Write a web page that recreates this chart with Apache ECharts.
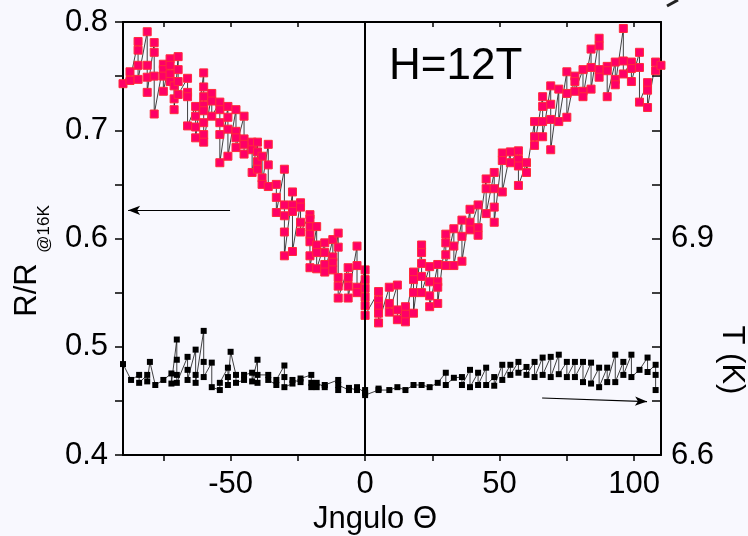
<!DOCTYPE html>
<html>
<head>
<meta charset="utf-8">
<script src="https://cdn.jsdelivr.net/npm/echarts@6/dist/echarts.min.js"></script>
<style>
  html, body { margin: 0; padding: 0; background: #f8f8fe; }
  #chart { width: 748px; height: 536px; }
</style>
</head>
<body>
<div id="chart"></div>
<script>
// Normalised resistance R/R(16K) versus field angle, several values per angle (repeated sweeps)
const rAngles = [-90, -87.4, -84.4, -81, -78.4, -75, -72.5, -71, -69.5, -66, -63, -60, -57, -54, -51, -48, -45, -42, -40, -38.3, -36, -33, -30, -27, -24, -20.5, -18, -15, -12, -10, -6.3, -3, 0, 5, 9, 12, 15, 18, 21, 24, 27, 30, 33, 36, 39, 42, 45, 48, 51, 54, 57, 60, 63, 66, 69, 72, 75, 78, 81, 84, 87, 90, 93, 96, 99, 102, 105, 108, 110];
const rValues = [
  [0.743], [0.754, 0.746], [0.782, 0.774, 0.760, 0.747], [0.791, 0.760, 0.749, 0.735],
  [0.781, 0.772, 0.750, 0.715], [0.761, 0.756, 0.750, 0.736], [0.766, 0.760, 0.752, 0.745],
  [0.741, 0.729, 0.719], [0.768, 0.756, 0.745, 0.733], [0.748, 0.735, 0.731, 0.704],
  [0.722, 0.713, 0.703, 0.693], [0.753, 0.740, 0.731, 0.723, 0.718, 0.707, 0.696, 0.689],
  [0.734, 0.727, 0.713], [0.726, 0.719, 0.707, 0.696, 0.670], [0.722, 0.712, 0.701, 0.676],
  [0.719, 0.699, 0.693, 0.684], [0.713, 0.692, 0.687, 0.678], [0.689, 0.682, 0.661],
  [0.689, 0.680, 0.671, 0.664], [0.676, 0.656, 0.650], [0.687, 0.668, 0.648],
  [0.650, 0.638, 0.624], [0.664, 0.631, 0.621, 0.606, 0.584], [0.643, 0.631, 0.625, 0.588],
  [0.633, 0.629, 0.615, 0.606], [0.622, 0.618, 0.611, 0.604, 0.597, 0.584, 0.573],
  [0.611, 0.594, 0.587, 0.572], [0.596, 0.587, 0.576, 0.569], [0.599, 0.583, 0.578, 0.571],
  [0.605, 0.592, 0.564, 0.556, 0.545], [0.573, 0.564, 0.556, 0.545], [0.593, 0.575, 0.555, 0.550],
  [0.571, 0.562, 0.554, 0.546, 0.538, 0.529], [0.551, 0.543, 0.537, 0.531, 0.522],
  [0.555, 0.540, 0.532], [0.557, 0.534, 0.525], [0.537, 0.530, 0.523],
  [0.569, 0.562, 0.550, 0.531], [0.594, 0.587, 0.577, 0.565, 0.550], [0.574, 0.560, 0.547, 0.537],
  [0.576, 0.560, 0.555, 0.540], [0.604, 0.596, 0.585, 0.575], [0.609, 0.593, 0.575],
  [0.617, 0.602, 0.579], [0.627, 0.615, 0.608], [0.631, 0.610, 0.603], [0.655, 0.646, 0.623],
  [0.661, 0.646, 0.629, 0.615], [0.679, 0.672, 0.643], [0.680, 0.670], [0.681, 0.673, 0.667, 0.649],
  [0.670, 0.661], [0.708, 0.694, 0.686], [0.731, 0.722, 0.708, 0.694], [0.741, 0.724, 0.710, 0.682],
  [0.738, 0.708], [0.754, 0.734, 0.712], [0.750, 0.745, 0.736], [0.756, 0.736, 0.731],
  [0.775, 0.758, 0.738], [0.785, 0.778, 0.756, 0.749], [0.759, 0.755, 0.731], [0.763, 0.747, 0.742],
  [0.794, 0.764, 0.752], [0.763, 0.757, 0.745], [0.772, 0.758, 0.726], [0.744, 0.737, 0.721],
  [0.763, 0.755], [0.760]
];

// Sample temperature T (K) recorded during the same sweeps
const tAngles = [-90, -87, -84, -81, -80, -78, -75, -72, -70, -66, -63, -60, -57, -54, -51, -50, -48, -45, -42, -40, -36, -33, -30, -27, -24, -20, -18, -15, -10, -6, -3, 0, 5, 9, 12, 15, 18, 21, 24, 27, 30, 33, 36, 39, 42, 45, 48, 51, 54, 57, 60, 63, 66, 69, 72, 75, 78, 81, 84, 87, 90, 93, 96, 99, 102, 105, 108];
const tValues = [
  [6.726], [6.704], [6.711, 6.700], [6.711, 6.702], [6.729], [6.697], [6.704], [6.713, 6.699],
  [6.760, 6.732, 6.711, 6.700], [6.736, 6.718, 6.704], [6.746, 6.711, 6.700], [6.772, 6.729, 6.708],
  [6.728, 6.694], [6.690, 6.700], [6.721, 6.708, 6.697], [6.743], [6.711, 6.700], [6.704, 6.711],
  [6.714, 6.702], [6.732, 6.700, 6.711], [6.711, 6.704], [6.697, 6.704], [6.724, 6.708, 6.694],
  [6.699, 6.704], [6.701, 6.706], [6.711, 6.694, 6.700], [6.694, 6.700], [6.694, 6.697],
  [6.704, 6.690, 6.697], [6.690, 6.693], [6.690, 6.694], [6.686, 6.690, 6.683], [6.690, 6.692],
  [6.690], [6.694], [6.690], [6.697], [6.697], [6.694], [6.700], [6.714, 6.697], [6.707],
  [6.708, 6.697], [6.718, 6.694], [6.714, 6.697], [6.721, 6.697], [6.708, 6.696], [6.725, 6.704],
  [6.725, 6.711], [6.729, 6.714], [6.722, 6.711], [6.729, 6.708], [6.735, 6.711], [6.736, 6.708],
  [6.739, 6.712], [6.729, 6.708], [6.729, 6.708], [6.729, 6.701], [6.728, 6.699], [6.721, 6.694],
  [6.721, 6.701], [6.739, 6.701], [6.729, 6.711], [6.739, 6.708], [6.718], [6.735, 6.715],
  [6.725, 6.711, 6.690]
];

// Axis tick positions and labelled values
const angleTicks = [-75, -50, -25, 0, 25, 50, 75, 100];
const angleLabels = [-50, 0, 50, 100];
const ratioLabels = [0.4, 0.5, 0.6, 0.7, 0.8];
const tempLabels = [6.6, 6.9];

function pairs(angles, groups) {
  const out = [];
  angles.forEach((a, i) => groups[i].forEach(v => out.push([a, v])));
  return out;
}

const FONT = "'Liberation Sans', Arial, Helvetica, sans-serif";
const chart = echarts.init(document.getElementById('chart'), null, { renderer: 'canvas' });

const axisLine = { show: true, onZero: false, lineStyle: { color: '#000', width: 2 } };

chart.setOption({
  backgroundColor: '#f8f8fe',
  animation: false,
  grid: { left: 123, right: 87, top: 22, bottom: 81 },
  xAxis: [
    {
      type: 'value', min: -90, max: 110, position: 'bottom',
      axisLine: axisLine,
      axisTick: { show: true, customValues: angleTicks, length: 6, inside: false, lineStyle: { color: '#000', width: 1.5 } },
      axisLabel: { show: true, customValues: angleLabels, color: '#000', fontSize: 31, fontFamily: FONT, margin: 14 },
      splitLine: { show: false }
    },
    {
      type: 'value', min: -90, max: 110, position: 'top',
      axisLine: axisLine,
      axisTick: { show: true, customValues: angleTicks, length: 5, inside: true, lineStyle: { color: '#000', width: 1.5 } },
      axisLabel: { show: false },
      splitLine: { show: false }
    }
  ],
  yAxis: [
    {
      type: 'value', min: 0.4, max: 0.8, interval: 0.05, position: 'left',
      axisLine: axisLine,
      axisTick: { show: true, length: 8, lineStyle: { color: '#000', width: 1.5 } },
      axisLabel: {
        color: '#000', fontSize: 31, fontFamily: FONT, margin: 15,
        formatter: v => ratioLabels.some(r => Math.abs(r - v) < 1e-6) ? v.toFixed(1) : ''
      },
      splitLine: { show: false }
    },
    {
      type: 'value', min: 6.6, max: 7.2, interval: 0.075, position: 'right',
      axisLine: axisLine,
      axisTick: { show: true, inside: true, length: 9, lineStyle: { color: '#000', width: 1.5 } },
      axisLabel: {
        color: '#000', fontSize: 31, fontFamily: FONT, margin: 10,
        formatter: v => tempLabels.some(t => Math.abs(t - v) < 1e-6) ? v.toFixed(1) : ''
      },
      splitLine: { show: false }
    }
  ],
  series: [
    {
      name: 'T', type: 'line', xAxisIndex: 0, yAxisIndex: 1,
      data: pairs(tAngles, tValues),
      symbol: 'rect', symbolSize: 6, showAllSymbol: true,
      itemStyle: { color: '#000' },
      lineStyle: { color: '#111', width: 0.8 },
      markLine: {
        silent: true, symbol: 'none', label: { show: false },
        data: [
          [
            { coord: [65.8, 6.679], symbol: 'none' },
            { coord: [104.8, 6.674], symbol: 'arrow', symbolSize: [7, 12] }
          ]
        ],
        lineStyle: { color: '#000', width: 1.2, type: 'solid' }
      }
    },
    {
      name: 'R/R16K', type: 'line', xAxisIndex: 0, yAxisIndex: 0,
      data: pairs(rAngles, rValues),
      symbol: 'rect', symbolSize: 8, showAllSymbol: true,
      itemStyle: { color: '#ff0066', borderColor: '#ff2b3a', borderWidth: 1 },
      lineStyle: { color: '#111', width: 0.8 },
      markLine: {
        silent: true, symbol: 'none', label: { show: false },
        lineStyle: { color: '#000', width: 2, type: 'solid' },
        data: [
          { xAxis: 0 },
          [
            { coord: [-50.2, 0.626], symbol: 'none', lineStyle: { width: 1.2 } },
            { coord: [-88.1, 0.626], symbol: 'arrow', symbolSize: [7, 12] }
          ]
        ]
      }
    }
  ],
  graphic: [
    {
      type: 'text', x: 389, y: 67,
      style: { text: 'H=12T', font: '44px ' + FONT, fill: '#000', align: 'left', verticalAlign: 'middle' }
    },
    {
      type: 'text', x: 27, y: 290, rotation: Math.PI / 2,
      style: { text: 'R/R', font: '31px ' + FONT, fill: '#000', align: 'center', verticalAlign: 'middle' }
    },
    {
      type: 'text', x: 44, y: 229, rotation: Math.PI / 2,
      style: { text: '@16K', font: '17px ' + FONT, fill: '#000', align: 'center', verticalAlign: 'middle' }
    },
    {
      type: 'text', x: 732, y: 360, rotation: -Math.PI / 2,
      style: { text: 'T (K)', font: '31px ' + FONT, fill: '#000', align: 'center', verticalAlign: 'middle' }
    },
    {
      type: 'text', x: 375, y: 519,
      style: { text: 'Jngulo Θ', font: '31px ' + FONT, fill: '#000', align: 'center', verticalAlign: 'middle' }
    },
    {
      type: 'line', shape: { x1: 667, y1: 6, x2: 678, y2: 0 },
      style: { stroke: '#222', lineWidth: 3 }
    }
  ]
});
</script>
</body>
</html>
